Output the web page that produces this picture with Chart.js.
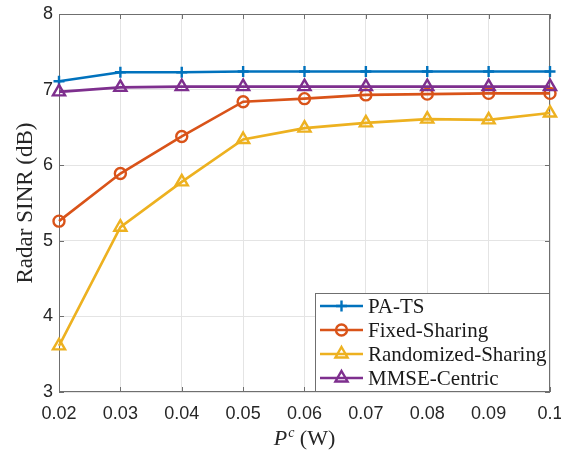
<!DOCTYPE html>
<html>
<head>
<meta charset="utf-8">
<script src="https://cdn.jsdelivr.net/npm/chart.js@4.4.0/dist/chart.umd.min.js"></script>
<style>
  html, body { margin: 0; padding: 0; background: #fff; }
  #wrap { width: 561px; height: 450px; }
</style>
</head>
<body>
<div id="wrap"><canvas id="sinrChart" width="561" height="450"></canvas></div>
<script>
  // values
  const powerW = [0.02, 0.03, 0.04, 0.05, 0.06, 0.07, 0.08, 0.09, 0.1];
  const xTickLabels = ['0.02', '0.03', '0.04', '0.05', '0.06', '0.07', '0.08', '0.09', '0.1'];
  const yTickLabels = ['3', '4', '5', '6', '7', '8'];
  const seriesNames = ['PA-TS', 'Fixed-Sharing', 'Randomized-Sharing', 'MMSE-Centric'];
  const paTS = [7.11, 7.23, 7.23, 7.24, 7.24, 7.24, 7.24, 7.24, 7.24];
  const fixedSharing = [5.26, 5.89, 6.38, 6.84, 6.88, 6.93, 6.94, 6.95, 6.95];
  const randomizedSharing = [3.61, 5.18, 5.78, 6.34, 6.49, 6.56, 6.61, 6.60, 6.69];
  const mmseCentric = [6.97, 7.03, 7.04, 7.04, 7.04, 7.04, 7.04, 7.04, 7.04];

  const serif = '"Liberation Serif", "Times New Roman", serif';
  const sans = '"Liberation Sans", Arial, sans-serif';
  const frameColor = '#6f6f6f';

  function toPoints(ys) {
    return ys.map((y, i) => ({ x: powerW[i], y: y }));
  }

  function makeSet(label, ys, color, style, radius, order) {
    return {
      label: label,
      data: toPoints(ys),
      borderColor: color,
      backgroundColor: 'rgba(0,0,0,0)',
      borderWidth: 2.6,
      pointStyle: style,
      pointRadius: radius,
      pointBorderWidth: 2.4,
      pointBorderColor: color,
      pointBackgroundColor: 'rgba(0,0,0,0)',
      tension: 0,
      clip: false,
      order: order
    };
  }

  // box, inward ticks and axis titles (MATLAB look)
  const framePlugin = {
    id: 'frame',
    beforeDatasetsDraw(chart) {
      const { ctx, chartArea: a, scales } = chart;
      ctx.save();
      ctx.strokeStyle = frameColor;
      ctx.lineWidth = 1;
      ctx.strokeRect(a.left + 0.5, a.top + 0.5, a.right - a.left - 1, a.bottom - a.top - 1);
      ctx.beginPath();
      powerW.forEach(v => {
        const x = Math.round(scales.x.getPixelForValue(v)) + 0.5;
        ctx.moveTo(x, a.bottom); ctx.lineTo(x, a.bottom - 5);
        ctx.moveTo(x, a.top); ctx.lineTo(x, a.top + 5);
      });
      yTickLabels.forEach(t => {
        const y = Math.round(scales.y.getPixelForValue(Number(t))) + 0.5;
        ctx.moveTo(a.left, y); ctx.lineTo(a.left + 5, y);
        ctx.moveTo(a.right, y); ctx.lineTo(a.right - 5, y);
      });
      ctx.stroke();
      ctx.restore();
    },
    afterDraw(chart) {
      const { ctx, chartArea: a } = chart;
      ctx.save();
      ctx.fillStyle = '#262626';

      // x title: italic P with superscript c
      const cx = (a.left + a.right) / 2;
      const base = 445;
      const fBig = '22px ' + serif;
      const fItal = 'italic 22px ' + serif;
      const fSup = 'italic 14px ' + serif;
      ctx.font = fItal; const wP = ctx.measureText('P').width;
      ctx.font = fSup; const wc = ctx.measureText('c').width;
      ctx.font = fBig; const wRest = ctx.measureText(' (W)').width;
      let x = cx - (wP + wc + 1 + wRest) / 2;
      ctx.textBaseline = 'alphabetic';
      ctx.textAlign = 'left';
      ctx.font = fItal; ctx.fillText('P', x, base); x += wP + 1;
      ctx.font = fSup; ctx.fillText('c', x, base - 8); x += wc;
      ctx.font = fBig; ctx.fillText(' (W)', x, base);

      // y title
      ctx.translate(26, (a.top + a.bottom) / 2);
      ctx.rotate(-Math.PI / 2);
      ctx.textAlign = 'center';
      ctx.textBaseline = 'middle';
      ctx.font = '23px ' + serif;
      ctx.fillText('Radar SINR (dB)', 0, 0);
      ctx.restore();

      // legend box in the lower right corner
      const box = { left: 315, top: 293, right: a.right, bottom: a.bottom };
      ctx.save();
      ctx.fillStyle = '#fff';
      ctx.fillRect(box.left, box.top, box.right - box.left, box.bottom - box.top);
      ctx.strokeStyle = frameColor;
      ctx.lineWidth = 1;
      ctx.strokeRect(box.left + 0.5, box.top + 0.5, box.right - box.left - 1, box.bottom - box.top - 1);
      const sets = chart.data.datasets;
      sets.forEach((ds, i) => {
        const y = box.top + 13 + i * 24;
        ctx.strokeStyle = ds.borderColor;
        ctx.lineWidth = ds.borderWidth;
        ctx.beginPath();
        ctx.moveTo(box.left + 5, y);
        ctx.lineTo(box.left + 48, y);
        ctx.stroke();
        ctx.fillStyle = 'rgba(0,0,0,0)';
        ctx.lineWidth = ds.pointBorderWidth;
        Chart.helpers.drawPoint(ctx, {
          pointStyle: ds.pointStyle, radius: ds.pointRadius, rotation: 0, borderWidth: ds.pointBorderWidth
        }, box.left + 26.5, y);
        ctx.fillStyle = '#1a1a1a';
        ctx.font = '21px ' + serif;
        ctx.textAlign = 'left';
        ctx.textBaseline = 'middle';
        ctx.fillText(ds.label, box.left + 53, y + 1);
      });
      ctx.restore();
    }
  };

  const sinrChart = new Chart(document.getElementById('sinrChart'), {
    type: 'line',
    data: {
      datasets: [
        makeSet(seriesNames[0], paTS, '#0072BD', 'cross', 5.5, 3),
        makeSet(seriesNames[1], fixedSharing, '#D95319', 'circle', 5.5, 2),
        makeSet(seriesNames[2], randomizedSharing, '#EDB120', 'triangle', 7, 1),
        makeSet(seriesNames[3], mmseCentric, '#7E2F8E', 'triangle', 7, 0)
      ]
    },
    options: {
      responsive: false,
      animation: false,
      layout: { padding: { left: 0, top: 14, right: 11, bottom: 0 } },
      plugins: {
        legend: { display: false },
        tooltip: { enabled: false }
      },
      scales: {
        x: {
          type: 'linear',
          min: 0.02,
          max: 0.1,
          afterBuildTicks(scale) {
            scale.ticks = powerW.map(v => ({ value: v }));
          },
          afterFit(scale) {
            scale.height = 58;
            scale.paddingLeft = 0;
            scale.paddingRight = 0;
          },
          ticks: {
            callback: (v, i) => xTickLabels[i],
            color: '#262626',
            font: { family: sans, size: 18 },
            padding: 11,
            maxRotation: 0,
            autoSkip: false
          },
          grid: { color: '#e4e4e4', lineWidth: 1, drawTicks: false },
          border: { display: false }
        },
        y: {
          type: 'linear',
          min: 3,
          max: 8,
          afterBuildTicks(scale) {
            scale.ticks = yTickLabels.map(t => ({ value: Number(t) }));
          },
          afterFit(scale) {
            scale.width = 59;
            scale.paddingTop = 0;
            scale.paddingBottom = 0;
          },
          ticks: {
            callback: (v, i) => yTickLabels[i],
            color: '#262626',
            font: { family: sans, size: 18 },
            padding: 6
          },
          grid: { color: '#e4e4e4', lineWidth: 1, drawTicks: false },
          border: { display: false }
        }
      }
    },
    plugins: [framePlugin]
  });
</script>
</body>
</html>
